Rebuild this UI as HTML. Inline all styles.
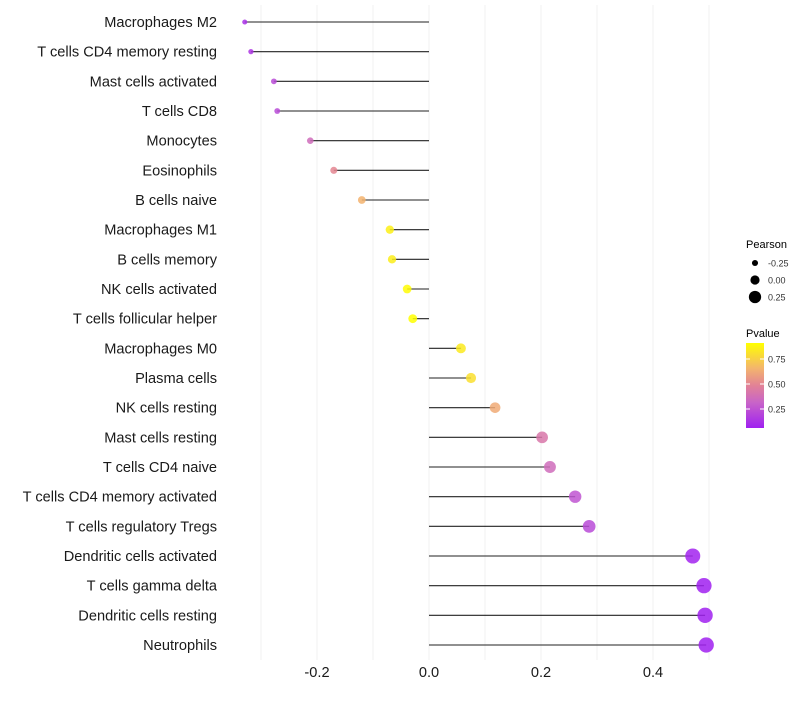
<!DOCTYPE html>
<html><head><meta charset="utf-8"><style>
body{margin:0;background:#fff;font-family:"Liberation Sans",sans-serif}
</style></head><body>
<svg id="chart" width="800" height="700" xmlns="http://www.w3.org/2000/svg"></svg>
<script>
const categories=["Macrophages M2","T cells CD4 memory resting","Mast cells activated","T cells CD8","Monocytes","Eosinophils","B cells naive","Macrophages M1","B cells memory","NK cells activated","T cells follicular helper","Macrophages M0","Plasma cells","NK cells resting","Mast cells resting","T cells CD4 naive","T cells CD4 memory activated","T cells regulatory  Tregs ","Dendritic cells activated","T cells gamma delta","Dendritic cells resting","Neutrophils"];
const pearson=[-0.329,-0.318,-0.277,-0.271,-0.212,-0.170,-0.120,-0.070,-0.066,-0.039,-0.029,0.057,0.075,0.118,0.202,0.216,0.261,0.286,0.471,0.491,0.493,0.495];
const pvalue=[0.12,0.14,0.22,0.22,0.36,0.5,0.65,0.86,0.85,0.9,0.92,0.84,0.8,0.62,0.42,0.36,0.26,0.22,0.07,0.06,0.06,0.06];
const xTicks=[-0.2,0,0.2,0.4];
const xTickLabels=["-0.2","0.0","0.2","0.4"];
const gridVals=[-0.3,-0.2,-0.1,0,0.1,0.2,0.3,0.4,0.5];
const NS="http://www.w3.org/2000/svg";
const svg=document.getElementById('chart');
const x=v=>429+v*560;
const y=i=>22+i*(623/21);
const r=v=>4.6+6.2*v;
const stops=[[0,[160,32,240]],[0.3,[200,100,200]],[0.5,[226,130,150]],[0.7,[243,180,110]],[1,[255,255,0]]];
const pmin=0.06,pmax=0.91;
function col(p){let t=Math.max(0,Math.min(1,(p-pmin)/(pmax-pmin)));for(let k=1;k<stops.length;k++){if(t<=stops[k][0]){const a=stops[k-1],b=stops[k];const f=(t-a[0])/(b[0]-a[0]);return 'rgb('+a[1].map((c,j)=>Math.round(c+(b[1][j]-c)*f)).join(',')+')';}}return 'rgb(255,255,0)';}
function el(t,a,p){const e=document.createElementNS(NS,t);for(const k in a)e.setAttribute(k,a[k]);(p||svg).appendChild(e);return e;}
gridVals.forEach(g=>{const l=el('line',{x1:x(g),x2:x(g),y1:5,y2:660,stroke:'#f0f0f0','stroke-width':1});

});
categories.forEach((c,i)=>{
const t=el('text',{x:217,y:y(i)+5,'text-anchor':'end','font-size':14.6,fill:'#1a1a1a'});t.textContent=c;


const l=el('line',{x1:x(0),x2:x(pearson[i]),y1:y(i),y2:y(i),stroke:'#222','stroke-width':1.1});


const d=el('circle',{cx:x(pearson[i]),cy:y(i),r:r(pearson[i]),fill:col(pvalue[i]),'fill-opacity':0.85});


});
xTicks.forEach((v,i)=>{const t=el('text',{x:x(v),y:677,'text-anchor':'middle','font-size':14.6,fill:'#1a1a1a'});t.textContent=xTickLabels[i];

});
const lg=el('g',{});


let t=el('text',{x:746,y:248,'font-size':11,fill:'#000'},lg);t.textContent='Pearson';
[[-0.25,263],[0,280],[0.25,297]].forEach(([v,yy])=>{el('circle',{cx:755,cy:yy,r:r(v)},lg);const tt=el('text',{x:768,y:yy+3.5,'font-size':9,fill:'#333'},lg);tt.textContent=v.toFixed(2);});
t=el('text',{x:746,y:337,'font-size':11,fill:'#000'},lg);t.textContent='Pvalue';
const defs=el('defs',{},svg);const gr=el('linearGradient',{id:'pg',x1:0,y1:1,x2:0,y2:0},defs);
for(let k=0;k<=10;k++){const p=0.06+k*0.085;el('stop',{offset:k/10,'stop-color':col(p)},gr);}
el('rect',{x:746,y:343,width:18,height:85,fill:'url(#pg)'},lg);
[[0.75],[0.5],[0.25]].forEach(([v])=>{const yy=343+(0.91-v)*100;el('line',{x1:746,x2:750,y1:yy,y2:yy,stroke:'#fff'},lg);el('line',{x1:760,x2:764,y1:yy,y2:yy,stroke:'#fff'},lg);const tt=el('text',{x:768,y:yy+3.5,'font-size':9,fill:'#333'},lg);tt.textContent=v.toFixed(2);});
</script>
</body></html>
